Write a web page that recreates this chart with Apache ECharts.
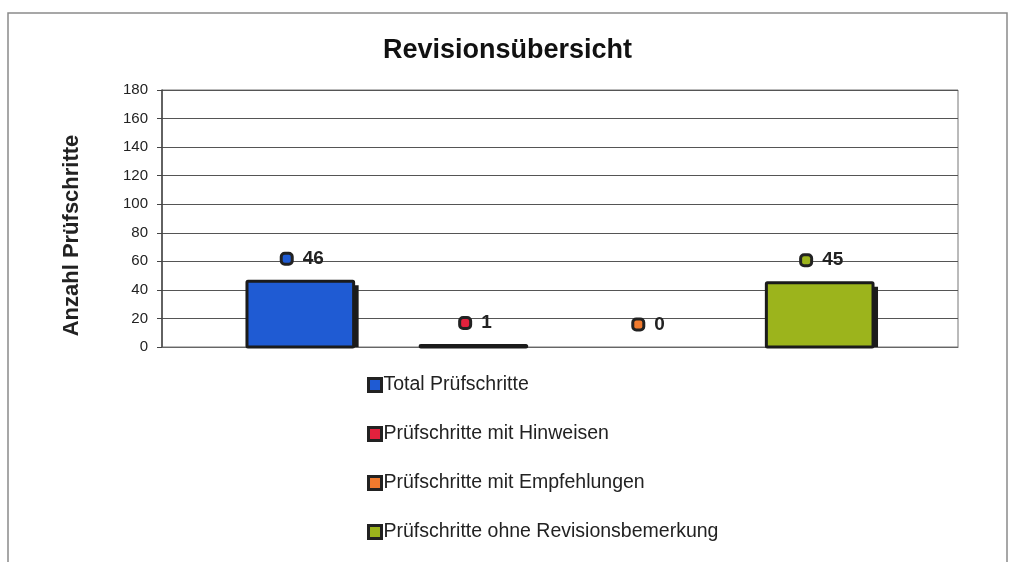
<!DOCTYPE html>
<html>
<head>
<meta charset="utf-8">
<script src="https://cdn.jsdelivr.net/npm/echarts@6/dist/echarts.min.js"></script>
<style>
  html, body { margin: 0; padding: 0; background: #fff; }
  #chart { width: 1015px; height: 562px; }
</style>
</head>
<body>
<div id="chart"></div>
<script>
const categories = [''];
const seriesNames = [
  'Total Prüfschritte',
  'Prüfschritte mit Hinweisen',
  'Prüfschritte mit Empfehlungen',
  'Prüfschritte ohne Revisionsbemerkung'
];
const seriesValues = [46, 1, 0, 45];
const seriesColors = ['#1f5bd3', '#e3213d', '#f07a2e', '#9cb41c'];
const yTicks = [0, 20, 40, 60, 80, 100, 120, 140, 160, 180];

const font = '"Liberation Sans", Arial, sans-serif';

const chart = echarts.init(document.getElementById('chart'), null, { renderer: 'canvas' });

// bar with a flat dark "3D" side, drawn from the axis scales
function barRenderer(i) {
  return function (params, api) {
    const val = api.value(1);
    const top = api.coord([api.value(0), val]);
    const base = api.coord([api.value(0), 0]);
    const band = api.size([1, 0])[0];
    const w = band * 0.134;
    const pitch = band * 0.2175;
    const cx = base[0] + (i - 1.5) * pitch;
    const x = cx - w / 2;
    const h = base[1] - top[1];
    const children = [];
    if (val > 0) {
      if (h > 5) {
        children.push({
          type: 'rect',
          shape: { x: x + 5, y: top[1] + 4, width: w, height: h - 4 },
          style: { fill: '#1b1b1b' }
        });
      }
      children.push({
        type: 'rect',
        shape: { x: x, y: top[1], width: w, height: h, r: 1 },
        style: { fill: seriesColors[i], stroke: '#1b1b1b', lineWidth: 3 }
      });
    }
    children.push({
      type: 'text',
      x: cx + 3,
      y: top[1] - 13,
      style: {
        text: '{icon|}{gap|}{v|' + val + '}',
        align: 'center',
        verticalAlign: 'bottom',
        rich: {
          icon: {
            width: 8,
            height: 8,
            backgroundColor: seriesColors[i],
            borderColor: '#222',
            borderWidth: 3,
            borderRadius: 2
          },
          gap: { width: 12 },
          v: {
            fontFamily: font,
            fontSize: 19,
            fontWeight: 'bold',
            fill: '#222'
          }
        }
      }
    });
    return { type: 'group', children: children };
  };
}

const series = seriesNames.map((name, i) => ({
  name: name,
  type: 'custom',
  data: [[0, seriesValues[i]]],
  encode: { x: 0, y: 1 },
  itemStyle: { color: seriesColors[i] },
  renderItem: barRenderer(i)
}));

const option = {
  backgroundColor: '#fff',
  animation: false,
  title: {
    text: 'Revisionsübersicht',
    left: 'center',
    top: 32,
    textStyle: { fontFamily: font, fontSize: 27, fontWeight: 'bold', color: '#111' }
  },
  graphic: [{
    type: 'rect',
    shape: { x: 8, y: 13, width: 999, height: 600 },
    style: { fill: 'none', stroke: '#8a8a8a', lineWidth: 1.5 },
    silent: true
  }],
  legend: {
    orient: 'vertical',
    left: 362,
    top: 370,
    itemWidth: 13,
    itemHeight: 13,
    itemGap: 29,
    icon: 'rect',
    data: seriesNames,
    itemStyle: { borderColor: '#222', borderWidth: 3 },
    textStyle: { fontFamily: font, fontSize: 19.5, color: '#222', padding: [0, 0, 0, -3] }
  },
  grid: { left: 162, right: 57, top: 90, bottom: 215, show: true, borderColor: '#777', borderWidth: 1 },
  xAxis: {
    type: 'category',
    data: categories,
    axisLine: { lineStyle: { color: '#666' } },
    axisTick: { show: false },
    axisLabel: { show: false }
  },
  yAxis: {
    type: 'value',
    min: yTicks[0],
    max: yTicks[yTicks.length - 1],
    interval: yTicks[1] - yTicks[0],
    name: 'Anzahl Prüfschritte',
    nameLocation: 'middle',
    nameGap: 79,
    nameTextStyle: { fontFamily: font, fontSize: 22, fontWeight: 'bold', color: '#222', padding: [0, 34, 0, 0] },
    axisLine: { show: true, lineStyle: { color: '#444', width: 1.5 } },
    axisTick: { show: true, length: 5, lineStyle: { color: '#444' } },
    axisLabel: { fontFamily: font, fontSize: 15, color: '#222', margin: 14 },
    splitLine: { lineStyle: { color: '#555', width: 1 } }
  },
  series: series
};

chart.setOption(option);
</script>
</body>
</html>
